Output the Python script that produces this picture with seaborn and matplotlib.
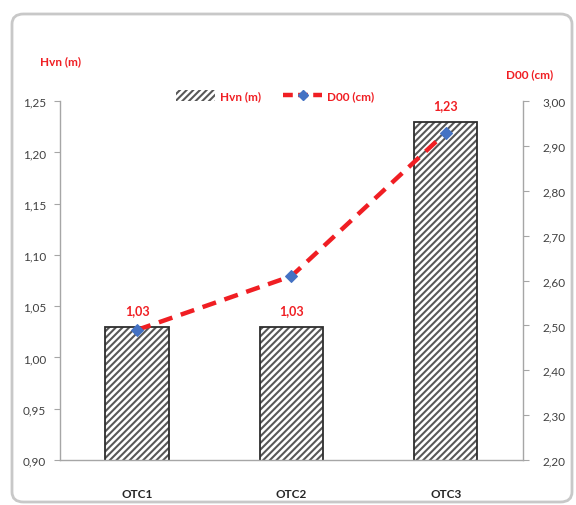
import numpy as np
import pandas as pd
import matplotlib
matplotlib.use("Agg")
import matplotlib.pyplot as plt
from matplotlib.patches import Rectangle, FancyBboxPatch
from matplotlib.lines import Line2D
from matplotlib.ticker import FixedLocator, FuncFormatter
import seaborn as sns

# Data
categories = ["OTC1", "OTC2", "OTC3"]
hvn_m = [1.03, 1.03, 1.23]
d00_cm = [2.49, 2.61, 2.93]
left_ticks = [0.90, 0.95, 1.00, 1.05, 1.10, 1.15, 1.20, 1.25]
right_ticks = [2.20, 2.30, 2.40, 2.50, 2.60, 2.70, 2.80, 2.90, 3.00]

RED = "#F01E23"
BLUE = "#4472C4"
AXIS_GREY = "#A6A6A6"
TEXT = "#404040"
BAR_FILL = "#575757"

sns.set_theme(style="white")
plt.rcParams["font.family"] = ["Lato", "DejaVu Sans"]
plt.rcParams["hatch.linewidth"] = 1.9

df = pd.DataFrame({"cat": categories, "hvn": hvn_m})

fig = plt.figure(figsize=(5.76, 5.06), dpi=100)
ax = fig.add_axes([0.104, 0.089, 0.804, 0.709])

# Hatched bars for Hvn
sns.barplot(data=df, x="cat", y="hvn", ax=ax, color=BAR_FILL,
            width=0.41, saturation=1)
bars = ax.containers[0]
for p in bars.patches:
    p.set_hatch("/////")
    p.set_edgecolor("white")
    p.set_linewidth(0)
    ax.add_patch(Rectangle(p.get_xy(), p.get_width(), p.get_height(),
                           fill=False, edgecolor="#2E2E2E", linewidth=1.3,
                           zorder=p.get_zorder() + 0.1))

ax.bar_label(bars, labels=[f"{v:.2f}".replace(".", ",") for v in hvn_m],
             padding=8, color=RED, fontsize=9, fontweight="bold")

ax.set_xlim(-0.5, 2.5)
ax.set_ylim(left_ticks[0], left_ticks[-1])
ax.yaxis.set_major_locator(FixedLocator(left_ticks))
comma = FuncFormatter(lambda v, pos: f"{v:.2f}".replace(".", ","))
ax.yaxis.set_major_formatter(comma)
ax.set_xlabel("")
ax.set_ylabel("")

# Dashed line for D00 on a secondary axis
ax2 = ax.twinx()
sns.lineplot(x=np.arange(len(categories)), y=d00_cm, ax=ax2, color=RED,
             linewidth=3.2, linestyle=(0, (3.2, 2.0)), marker="D",
             markersize=6, markerfacecolor=BLUE, markeredgecolor=BLUE)
ax2.set_ylim(right_ticks[0], right_ticks[-1])
ax2.yaxis.set_major_locator(FixedLocator(right_ticks))
ax2.yaxis.set_major_formatter(comma)
ax2.set_xlim(-0.5, 2.5)

for a in (ax, ax2):
    a.grid(False)
    a.spines["top"].set_visible(False)
    for s in ("left", "right", "bottom"):
        a.spines[s].set_color(AXIS_GREY)
        a.spines[s].set_linewidth(1.0)
ax.spines["right"].set_visible(False)
ax2.spines["left"].set_visible(False)
ax2.spines["bottom"].set_visible(False)

ax.tick_params(axis="y", which="major", left=True, length=4, width=0.8,
               color=AXIS_GREY, labelsize=8.5, labelcolor=TEXT, pad=6)
ax.tick_params(axis="x", bottom=False, labelsize=8.5, labelcolor="#262626",
               pad=14)
for t in ax.get_xticklabels():
    t.set_fontweight("bold")
ax2.tick_params(axis="y", right=True, length=4, width=0.8, color=AXIS_GREY,
                labelsize=8.5, labelcolor=TEXT, pad=10)

# Axis titles
fig.text(60 / 576, 1 - 62 / 506, "Hvn (m)", color=RED, fontsize=8.5,
         fontweight="bold", ha="center", va="center")
fig.text(530 / 576, 1 - 75 / 506, "D00 (cm)", color=RED, fontsize=8.5,
         fontweight="bold", ha="center", va="center")

# Legend
handles = [
    Rectangle((0, 0), 1, 1, facecolor=BAR_FILL, hatch="/////",
              edgecolor="white", linewidth=0),
    Line2D([0], [0], color=RED, linewidth=3.2, linestyle=(0, (2.2, 1.2)),
           marker="D", markersize=5, markerfacecolor=BLUE,
           markeredgecolor=BLUE),
]
leg = fig.legend(handles, ["Hvn (m)", "D00 (cm)"], loc="center",
                 bbox_to_anchor=(275 / 576, 1 - 97 / 506), ncol=2,
                 frameon=False, fontsize=8.5, handlelength=3.3,
                 handleheight=1.0, handletextpad=0.4, columnspacing=1.9)
for t in leg.get_texts():
    t.set_color(RED)
    t.set_fontweight("bold")

# Rounded frame around the chart area
fig.patches.append(FancyBboxPatch((12 / 576, 3 / 506), 560 / 576, 488 / 506,
                                  boxstyle="round,pad=0,rounding_size=0.02",
                                  transform=fig.transFigure, fill=False,
                                  edgecolor="#C8C8C8", linewidth=2.0))

fig.savefig("out.png", dpi=100, facecolor="white")
